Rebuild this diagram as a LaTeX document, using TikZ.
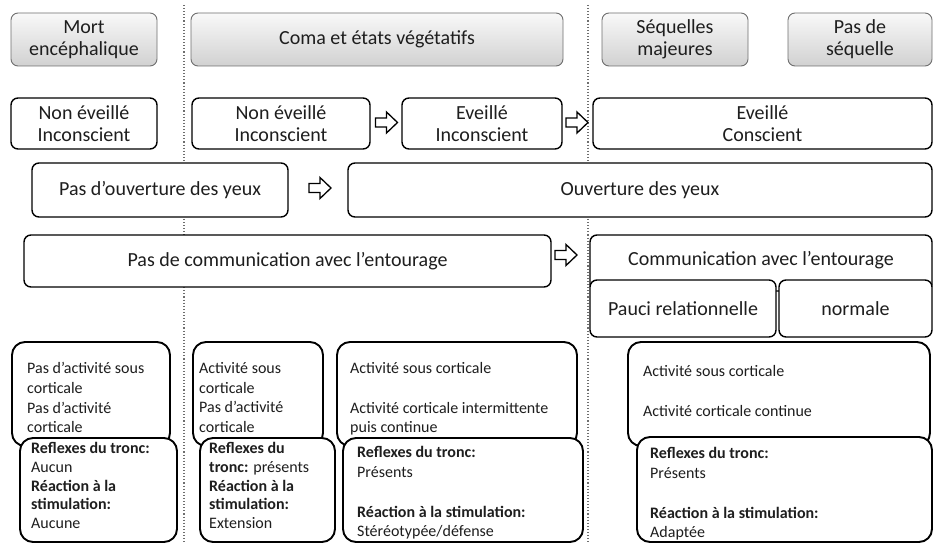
\documentclass[tikz,border=0pt]{standalone}
\usepackage{fontspec}
\setmainfont{Carlito}
\definecolor{txt}{HTML}{1E1E1E}
\definecolor{hdrline}{HTML}{6E6E6E}
\tikzset{
  hdr/.style={draw=hdrline, line width=0.9pt, rounded corners=7pt, top color=gray!5, bottom color=gray!36,
    text=txt, align=center, font=\fontsize{20}{22}\selectfont, inner sep=0pt},
  box/.style={draw=black, line width=1.4pt, rounded corners=7pt, fill=white,
    text=txt, align=center, font=\fontsize{20}{22}\selectfont, inner sep=0pt},
  bbox/.style={draw=black, line width=1.9pt, rounded corners=13pt, fill=white, inner sep=0pt},
  btxt/.style={text=txt, align=left, anchor=north west, inner sep=0pt, font=\fontsize{16}{19.8}\selectfont},
  btxtc/.style={btxt, font=\fontsize{16}{18.8}\selectfont},
  harrowline/.style={draw=black, fill=white, line width=1.3pt, line join=miter},
  blockarrow/.pic={\path[harrowline] (-11,-4.5) -- (0,-4.5) -- (0,-10.5) -- (11,0) -- (0,10.5) -- (0,4.5) -- (-11,4.5) -- cycle;},
  sep/.style={draw=hdrline, line width=1.1pt, dotted}
}
\begin{document}
\begin{tikzpicture}[x=1pt,y=-1pt]
\useasboundingbox (0,0) rectangle (934,543);
% separators
\coordinate (s1t) at (184,5); \coordinate (s1b) at (184,543);
\coordinate (s2t) at (588,5); \coordinate (s2b) at (588,543);
\draw[sep] (s1t) -- (s1b);
\draw[sep] (s2t) -- (s2b);
% headers
\node[hdr, minimum width=146pt, minimum height=53pt] (h1) at (84,39.5) {Mort\\encéphalique};
\node[hdr, minimum width=372pt, minimum height=53pt] (h2) at (377,39.5) {Coma et états végétatifs};
\node[hdr, minimum width=146pt, minimum height=53pt] (h3) at (675,39.5) {Séquelles\\majeures};
\node[hdr, minimum width=144pt, minimum height=53pt] (h4) at (860,39.5) {Pas de\\séquelle};
% row 2
\node[box, minimum width=146pt, minimum height=51pt] (r1) at (84,123.5) {Non éveillé\\Inconscient};
\node[box, minimum width=178pt, minimum height=51pt] (r2) at (281,123.5) {Non éveillé\\Inconscient};
\node[box, minimum width=160pt, minimum height=51pt] (r3) at (482,123.5) {Eveillé\\Inconscient};
\node[box, minimum width=339pt, minimum height=51pt] (r4) at (762.5,123.5) {Eveillé\\Conscient};
\pic at (386.5,122.5) {blockarrow};
\pic at (577,122.5) {blockarrow};
% row 3
\node[box, minimum width=256pt, minimum height=54pt] (o1) at (160,190) {Pas d’ouverture des yeux};
\node[box, minimum width=584pt, minimum height=54pt] (o2) at (640,190) {Ouverture des yeux};
\pic at (320,188) {blockarrow};
% row 4
\node[box, minimum width=527pt, minimum height=52pt] (c1) at (287.5,261) {Pas de communication avec l’entourage};
\node[box, minimum width=342pt, minimum height=56pt] (c2) at (761,263) {};
\node[text=txt, font=\fontsize{20}{22}\selectfont, inner sep=0pt] (c2t) at (761,260) {Communication avec l’entourage};
\pic at (566,255) {blockarrow};
\node[box, minimum width=186pt, minimum height=57pt] (p1) at (683,308.5) {Pauci relationnelle};
\node[box, minimum width=153pt, minimum height=57pt] (p2) at (855.5,308.5) {normale};
% bottom column 1
\node[bbox, minimum width=158pt, minimum height=104pt] (b1t) at (91,394) {};
\node[btxt] (b1tt) at (27,362) {Pas d’activité sous\\corticale\\Pas d’activité\\corticale};
\node[bbox, minimum width=157pt, minimum height=104pt] (b1b) at (98.5,490) {};
\node[btxtc] (b1bt) at (31,442) {\textbf{Reflexes du tronc:}\\Aucun\\\textbf{Réaction à la}\\\textbf{stimulation:}\\Aucune};
% bottom column 2
\node[bbox, minimum width=130pt, minimum height=104pt] (b2t) at (258,394) {};
\node[btxt] (b2tt) at (199,362) {Activité sous\\corticale\\Pas d’activité\\corticale};
\node[bbox, minimum width=135pt, minimum height=104pt] (b2b) at (267.5,490) {};
\node[btxtc] (b2bt) at (209,442) {\textbf{Reflexes du}\\\textbf{tronc:} présents\\\textbf{Réaction à la}\\\textbf{stimulation:}\\Extension};
% bottom column 3
\node[bbox, minimum width=240pt, minimum height=104pt] (b3t) at (457,394) {};
\node[btxt] (b3tt) at (350,362) {Activité sous corticale\\[20pt]Activité corticale intermittente\\puis continue};
\node[bbox, minimum width=240pt, minimum height=104pt] (b3b) at (463,490) {};
\node[btxt] (b3bt) at (357,446) {\textbf{Reflexes du tronc:}\\Présents\\[20pt]\textbf{Réaction à la stimulation:}\\Stéréotypée/défense};
% bottom column 4
\node[bbox, minimum width=302pt, minimum height=104pt] (b4t) at (779,394) {};
\node[btxt] (b4tt) at (643,365) {Activité sous corticale\\[20pt]Activité corticale continue};
\node[bbox, minimum width=295pt, minimum height=105pt] (b4b) at (784.5,489.5) {};
\node[btxt] (b4bt) at (650,447) {\textbf{Reflexes du tronc:}\\Présents\\[20pt]\textbf{Réaction à la stimulation:}\\Adaptée};
\end{tikzpicture}
\end{document}
